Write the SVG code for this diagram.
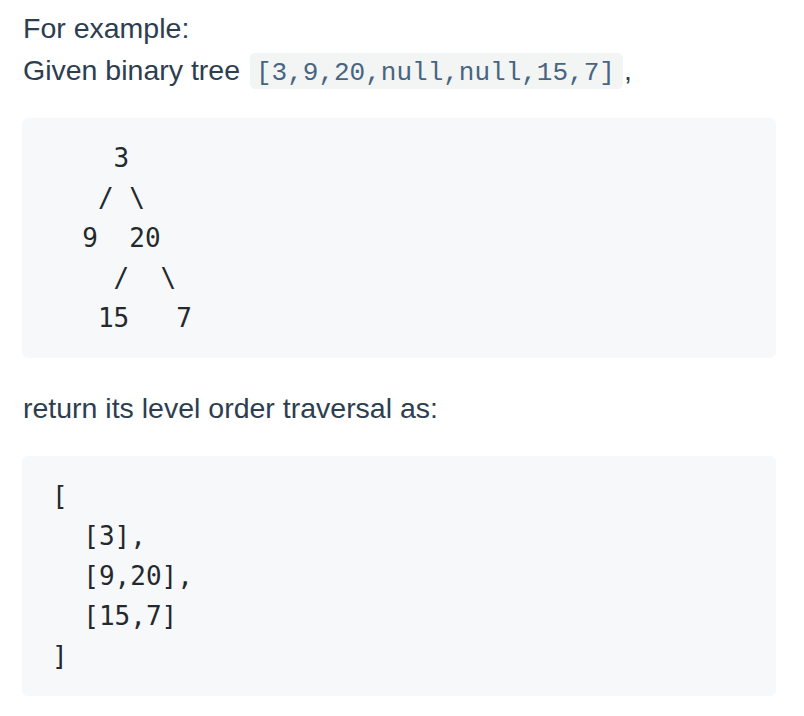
<svg xmlns="http://www.w3.org/2000/svg" width="804" height="716" viewBox="0 0 804 716">
<style>
.body{font-family:"Liberation Sans",Arial,sans-serif;font-size:28.5px;fill:#2c3e50}
.inl{font-family:"Liberation Mono","Courier New",monospace;font-size:26px;fill:#476582}
.blk{fill:#f6f8fa}
.code{font-family:"DejaVu Sans Mono",Menlo,monospace;font-size:26px;fill:#24292e;white-space:pre}
</style>
<rect width="804" height="716" fill="#ffffff"/>
<g id="intro">
<text class="body" x="23" y="38">For example:</text>
<text class="body" x="23" y="80">Given binary tree</text>
<rect x="250" y="53" width="373" height="36" rx="5" fill="#1b1f23" fill-opacity="0.05"/>
<text class="inl" x="256" y="80">[3,9,20,null,null,15,7]</text>
<text class="body" x="624" y="80">,</text>
</g>
<g id="tree-block">
<rect class="blk" x="22" y="118" width="754" height="240" rx="6"/>
<text class="code" x="51" y="167">    3</text>
<text class="code" x="51" y="207">   / \</text>
<text class="code" x="51" y="247">  9  20</text>
<text class="code" x="51" y="287">    /  \</text>
<text class="code" x="51" y="327">   15   7</text>
</g>
<g id="return">
<text class="body" x="23" y="418">return its level order traversal as:</text>
</g>
<g id="result-block">
<rect class="blk" x="22" y="456" width="754" height="240" rx="6"/>
<text class="code" x="52" y="505">[</text>
<text class="code" x="52" y="545">  [3],</text>
<text class="code" x="52" y="585">  [9,20],</text>
<text class="code" x="52" y="625">  [15,7]</text>
<text class="code" x="52" y="665">]</text>
</g>
</svg>
